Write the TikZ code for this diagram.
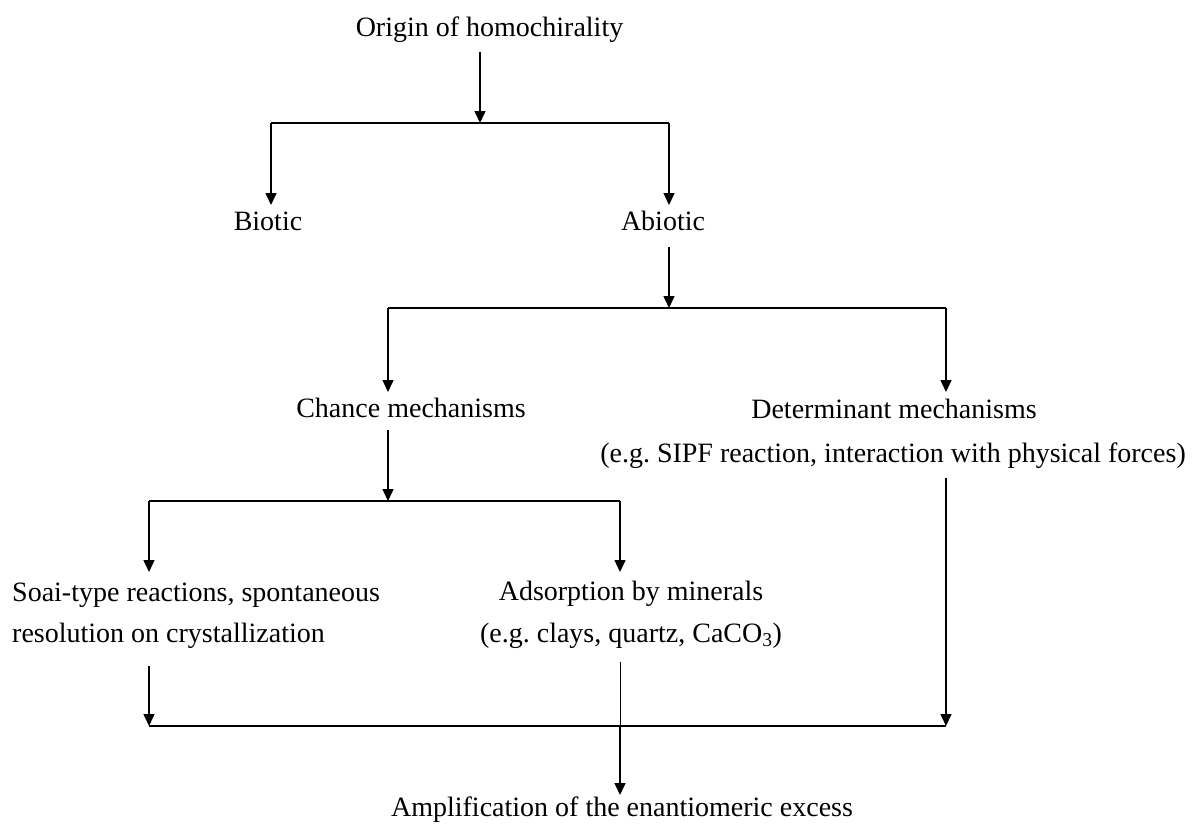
\documentclass[tikz,border=0pt]{standalone}
\usepackage{fontspec}
\setmainfont{Liberation Serif}
\usetikzlibrary{arrows.meta}
\begin{document}
\begin{tikzpicture}[x=1pt,y=-1pt,
  font=\fontsize{28}{34}\selectfont,
  lbl/.style={inner sep=0pt, anchor=base},
  link/.style={line width=1.5pt, line cap=butt},
  thinlink/.style={line width=0.8pt},
  arr/.style={link, -{Triangle[width=11pt,length=12pt]}}]
\useasboundingbox (0,0) rectangle (1193,825);

% labels
\node[lbl] (origin)  at (489.5,36) {Origin of homochirality};
\node[lbl] (biotic)  at (268,230) {Biotic};
\node[lbl] (abiotic) at (663,230) {Abiotic};
\node[lbl] (chance)  at (411,417) {Chance mechanisms};
\node[lbl] (determ)  at (894,418) {Determinant mechanisms};
\node[lbl] (determx) at (893,462) {(e.g.\ SIPF reaction, interaction with physical forces)};
\node[lbl, anchor=base west] (soai)  at (12,601) {Soai-type reactions, spontaneous};
\node[lbl, anchor=base west] (soaix) at (12,642) {resolution on crystallization};
\node[lbl] (adsorb)  at (631,600) {Adsorption by minerals};
\node[lbl] (adsorbx) at (631,642) {(e.g.\ clays, quartz, CaCO\textsubscript{3})};
\node[lbl] (amplif)  at (622,816) {Amplification of the enantiomeric excess};

% junction points
\coordinate (o-out)    at (480,52);
\coordinate (j1)       at (480,123);
\coordinate (j1l)      at (271,123);
\coordinate (j1r)      at (669,123);
\coordinate (bio-in)   at (271,205);
\coordinate (abio-in)  at (669,205);
\coordinate (abio-out) at (669,247);
\coordinate (j2)       at (669,308);
\coordinate (j2l)      at (388,308);
\coordinate (j2r)      at (946,308);
\coordinate (ch-in)    at (388,392);
\coordinate (det-in)   at (946,392);
\coordinate (ch-out)   at (388,430);
\coordinate (j3)       at (388,501);
\coordinate (j3l)      at (149,501);
\coordinate (j3r)      at (620,501);
\coordinate (soai-in)  at (149,572);
\coordinate (ads-in)   at (620,572);
\coordinate (soai-out) at (149,666);
\coordinate (ads-out)  at (620,662);
\coordinate (det-out)  at (946,478);
\coordinate (j4l)      at (149,726);
\coordinate (j4)       at (620,726);
\coordinate (j4r)      at (946,726);
\coordinate (amp-in)   at (620,795);

% origin -> biotic / abiotic
\draw[arr] (o-out) -- (j1);
\draw[link] (j1l) -- (j1r);
\draw[arr] (j1l) -- (bio-in);
\draw[arr] (j1r) -- (abio-in);

% abiotic -> chance / determinant
\draw[arr] (abio-out) -- (j2);
\draw[link] (j2l) -- (j2r);
\draw[arr] (j2l) -- (ch-in);
\draw[arr] (j2r) -- (det-in);

% chance -> soai / adsorption
\draw[arr] (ch-out) -- (j3);
\draw[link] (j3l) -- (j3r);
\draw[arr] (j3l) -- (soai-in);
\draw[arr] (j3r) -- (ads-in);

% all routes -> amplification
\draw[arr] (soai-out) -- (j4l);
\draw[arr] (det-out) -- (j4r);
\draw[link] (j4l) -- (j4r);
\draw[thinlink] (ads-out) -- (j4);
\draw[arr] (j4) -- (amp-in);
\end{tikzpicture}
\end{document}
